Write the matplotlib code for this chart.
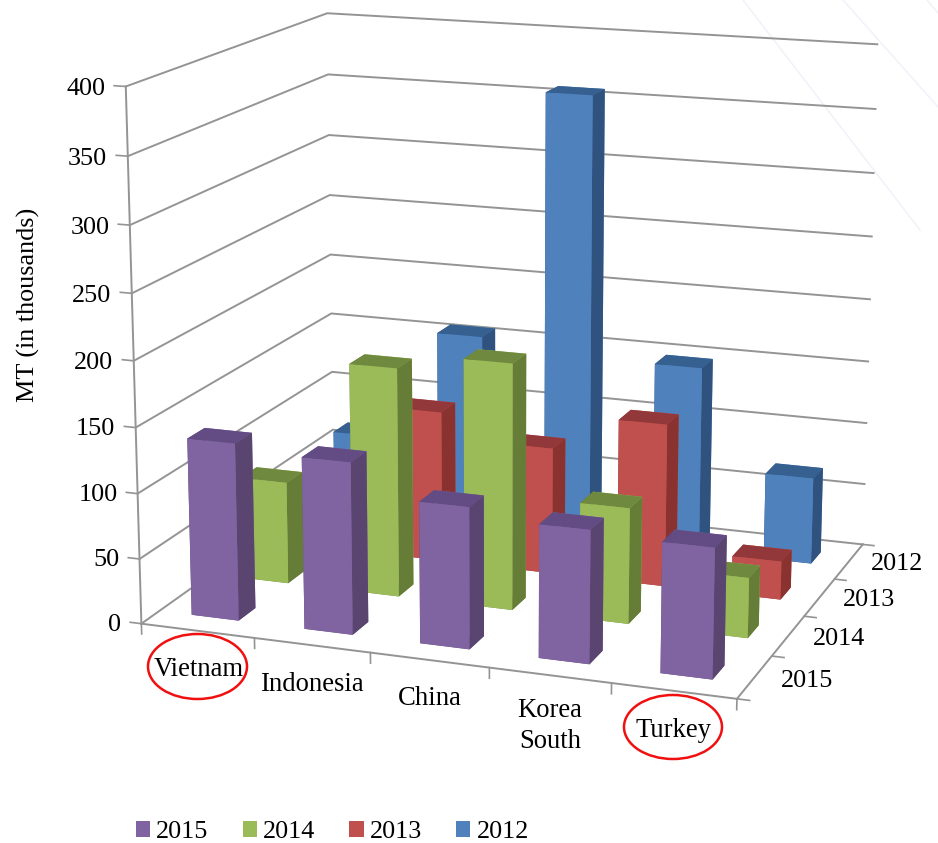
import numpy as np
import matplotlib
matplotlib.use('Agg')
import matplotlib.pyplot as plt
from matplotlib.lines import Line2D
from matplotlib.patches import Ellipse, Patch
from mpl_toolkits.mplot3d import proj3d

plt.rcParams['font.family'] = ['Liberation Serif', 'DejaVu Serif']
FS = 18.8
W, H = 938, 843

# data
countries = ['Vietnam', 'Indonesia', 'China', 'Korea\nSouth', 'Turkey']
years = ['2015', '2014', '2013', '2012']
v2015 = [136, 131, 107, 100, 97]
v2014 = [80, 178, 190, 89, 46]
v2013 = [0, 120, 100, 128, 30]
v2012 = [67, 158, 358, 149, 69]
series = [v2015, v2014, v2013, v2012]
z_ticks = [0, 50, 100, 150, 200, 250, 300, 350, 400]

front = ['#8064A2', '#9BBB59', '#C0504D', '#4F81BD']
side = ['#5A4570', '#667D38', '#8A3230', '#30527F']
top = ['#634C84', '#6F8A3E', '#93383A', '#35608F']

grid = '#949494'
bar_w = 0.42
bar_d = 0.33

fig = plt.figure(figsize=(W/100, H/100), dpi=100)
ax = fig.add_subplot(projection='3d', computed_zorder=False)
ax.set_position([82.96/W, 81.24/H, H/W, 1])
ax.set_xlim(0, 5)
ax.set_ylim(0, 4)
ax.set_zlim(0, 400)
# camera fitted to the corners of the box in the picture
ax.view_init(14.2588, -70.3258, -0.07)
ax.set_proj_type('persp', focal_length=0.7056)
ax.set_box_aspect((3.4053, 2.7256, 2.9977), zoom=1.0862)
ax.set_xticks([])
ax.set_yticks([])
ax.set_zticks([])
ax.set_axis_off()
ax.patch.set_visible(False)
M = ax.get_proj()


def label(x, y, z, s, **kw):
    # plain 2d text placed at the projected point
    px, py, _ = proj3d.proj_transform(x, y, z, M)
    ax.text2D(px, py, s, transform=ax.transData, zorder=100, **kw)


# walls
for z in z_ticks:
    ax.plot([0, 0, 5], [0, 4, 4], [z, z, z], color=grid, lw=1.4, zorder=1)
ax.plot([0, 0], [0, 0], [0, 400], color=grid, lw=1.4, zorder=1)
ax.plot([0, 5, 5], [0, 0, 4], [0, 0, 0], color=grid, lw=1.4, zorder=1)

# ticks
for z in z_ticks:
    ax.plot([-0.1, 0], [0, 0], [z, z], color=grid, lw=1.2, zorder=1)
for i in range(6):
    ax.plot([i, i], [0, 0], [0, -8], color=grid, lw=1.2, zorder=1)
for j in range(5):
    ax.plot([5, 5.1], [j, j], [0, 0], color=grid, lw=1.2, zorder=1)

# bars, back row first so the painter order is right
zo = 2
for r in range(3, -1, -1):
    for c in range(5):
        h = series[r][c]
        if h == 0:
            continue
        colors = [top[r], top[r], front[r], front[r], side[r], side[r]]
        ax.bar3d(c + 0.5 - bar_w/2, r + 0.5 - bar_d/2, 0, bar_w, bar_d, h,
                 color=colors, shade=False, linewidth=0, zorder=zo)
        zo += 1

# tick labels
for z in z_ticks:
    label(-0.18, 0, z - 3, str(z), ha='right', va='center', fontsize=FS)
for i, name in enumerate(countries):
    off = -39 if '\n' in name else -30
    if i > 1:
        off += 1
    label(i + 0.5, 0, off, name, ha='center', va='center', fontsize=19.2, linespacing=1.3)
for r, y in enumerate(years):
    label(5.42, r + 0.5, 2, y, ha='center', va='center', fontsize=FS)

fig.text(28/W, 1 - 305/H, 'MT (in thousands)', rotation=90, ha='center', va='center', fontsize=FS)

# red circles round the two countries
for cx, cy, w, h in [(197.5, 666.5, 99, 65), (673, 727, 98, 64)]:
    fig.add_artist(Ellipse((cx/W, 1 - cy/H), w/W, h/H, transform=fig.transFigure,
                           fill=False, edgecolor='#F01010', lw=1.8, zorder=5))

# faint lines of the page behind the chart
for xa, ya, xb, yb in [(743, 0, 920, 230), (843, 0, 938, 107), (927, 0, 938, 13)]:
    fig.add_artist(Line2D([xa/W, xb/W], [1 - ya/H, 1 - yb/H], color='#F2F2F9', lw=1.2, zorder=-1))

handles = [Patch(facecolor=front[i], label=years[i]) for i in range(4)]
fig.legend(handles=handles, loc='center', bbox_to_anchor=(332.5/W, 1 - 832/H), ncol=4,
           frameon=False, fontsize=FS, handlelength=0.54, handleheight=0.54,
           handletextpad=0.25, columnspacing=1.3, borderpad=0)

fig.savefig('out.png', dpi=100)
